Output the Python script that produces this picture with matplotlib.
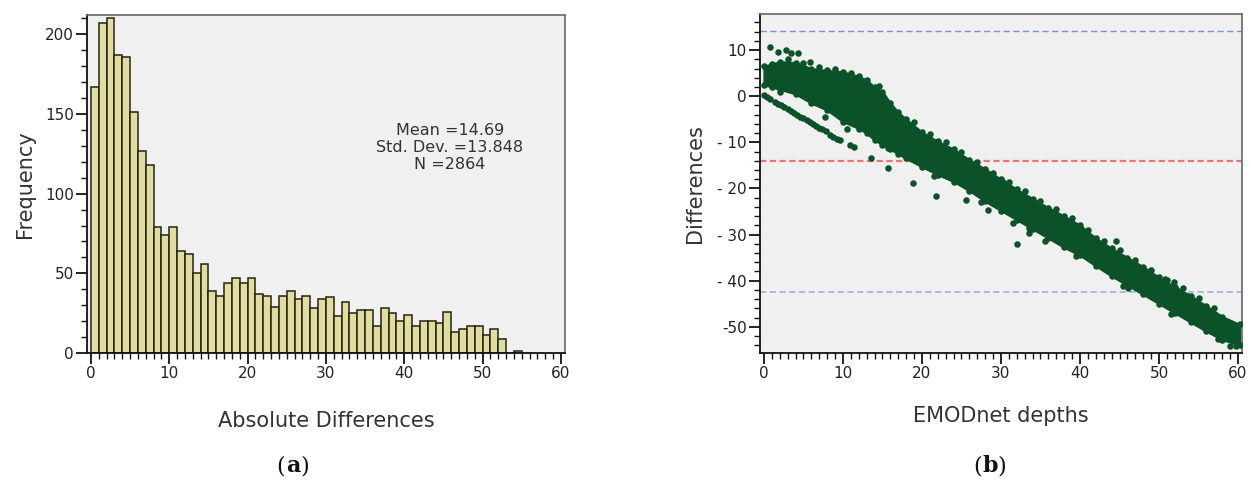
import numpy as np
import matplotlib
matplotlib.use("Agg")
import matplotlib.pyplot as plt
from matplotlib.ticker import MultipleLocator
from matplotlib.transforms import offset_copy

plt.rcParams['font.family'] = ['DejaVu Sans']
plt.rcParams['axes.unicode_minus'] = False
plt.rcParams['lines.scale_dashes'] = False

# (a) histogram of absolute differences, bins of width 1
bin_counts = [167, 207, 210, 187, 186, 151, 127, 118, 79, 74,
              79, 64, 62, 50, 56, 39, 36, 44, 47, 44,
              47, 37, 36, 29, 36, 39, 34, 36, 28, 34,
              35, 23, 32, 25, 27, 27, 17, 28, 25, 20,
              24, 17, 20, 20, 19, 26, 13, 15, 17, 17,
              11, 15, 9, 0, 1]
bin_left = np.arange(len(bin_counts))
stats_text = "Mean =14.69\nStd. Dev. =13.848\nN =2864"

# (b) differences vs EMODnet depths
# envelope of the dense point cloud
env_x = [0, 1, 2, 4, 6, 8, 10, 12, 13, 14, 15, 16, 17, 18, 20, 22, 24, 26, 28, 30,
         32, 34, 36, 38, 40, 42, 44, 46, 48, 50, 52, 54, 56, 58, 60.2]
env_hi = [6.5, 7.0, 7.5, 7.3, 6.0, 5.6, 5.3, 4.3, 3.5, 2.0, 1.0, -1.5, -3.5, -5.0, -7.8,
          -9.8, -11.5, -13.8, -15.8, -18.0, -20.2, -22.2, -24.2, -26.0, -28.0, -30.8,
          -33.0, -35.0, -37.0, -39.3, -41.3, -43.3, -45.5, -47.8, -49.5]
env_lo = [2.5, 2.0, 1.5, 0.5, -1.5, -3.0, -5.5, -7.0, -8.0, -9.5, -10.5, -11.5, -12.5,
          -13.5, -15.3, -17.0, -18.5, -20.5, -22.8, -24.8, -26.8, -28.8, -30.8, -32.8,
          -34.5, -36.8, -39.0, -41.0, -43.0, -45.0, -47.0, -49.0, -51.0, -52.8, -54.0]
# bumps sticking out of the cloud edges
edge_x = [3.0, 5.0, 7.0, 9.0, 11.0, 14.5, 19.0, 21.0, 23.0, 25.0, 27.0, 29.0, 31.0,
          33.0, 35.0, 37.0, 39.0, 41.0, 43.0, 45.0, 47.0, 49.0, 51.0, 53.0, 55.0, 57.0,
          21.5, 27.5, 33.5, 39.5, 45.5, 51.5, 57.5, 59.0]
edge_y = [8.0, 7.2, 6.3, 6.0, 5.0, 2.2, -5.6, -8.2, -10.0, -12.0, -14.2, -16.6, -18.6,
          -20.6, -22.7, -24.4, -26.5, -29.0, -31.3, -33.4, -35.5, -37.6, -39.8, -41.7,
          -43.8, -46.0, -17.2, -23.0, -28.5, -34.6, -41.2, -47.3, -52.6, -54.2]
# thin line of points below the cloud (depth 0..11)
line_x = [0.0, 0.4, 0.8, 1.4, 1.8, 2.2, 2.6, 3.0, 3.4, 3.8, 4.2, 4.6, 5.0, 5.4, 5.8,
          6.2, 6.6, 7.0, 7.4, 7.8, 8.4, 8.8, 9.2, 9.6, 10.9, 11.4]
line_y = [0.2, -0.1, -0.6, -1.2, -1.6, -2.0, -2.4, -2.8, -3.2, -3.6, -4.0, -4.4, -4.8,
          -5.2, -5.6, -6.0, -6.4, -6.8, -7.2, -7.6, -8.4, -8.8, -9.2, -9.6, -10.6, -11.0]
# isolated points
out_x = [0.8, 1.8, 2.8, 3.4, 4.3, 5.8, 2.0, 7.7, 10.5, 13.6, 15.7, 15.7, 18.9, 21.8,
         25.6, 28.3, 30.3, 31.5, 32.0, 33.5, 35.6, 37.8, 44.6, 46.1, 48.8, 50.8, 51.9,
         53.7, 59.7]
out_y = [10.7, 9.6, 10.0, 9.3, 9.3, 7.4, 0.9, -4.5, -7.0, -13.4, -15.5, -11.3, -18.9,
         -21.6, -22.6, -24.6, -18.6, -27.6, -32.0, -29.7, -31.5, -27.1, -31.4, -41.7,
         -38.0, -39.7, -40.3, -43.3, -54.2]
mean_diff = -14.1
upper_loa = 14.2
lower_loa = -42.4

green = '#0c5229'
bg = '#f0f0f0'
txt = '#333333'

fig = plt.figure(figsize=(12.51, 4.82), dpi=100)
ax1 = fig.add_axes([0.0695, 0.2676, 0.382, 0.701])
ax2 = fig.add_axes([0.6075, 0.2676, 0.3853, 0.703])


def style_axes(ax):
    ax.set_facecolor(bg)
    for s in ['top', 'right']:
        ax.spines[s].set_color('#666666')
        ax.spines[s].set_linewidth(1.2)
    for s in ['left', 'bottom']:
        ax.spines[s].set_color('#111111')
        ax.spines[s].set_linewidth(1.3)
    ax.tick_params(which='major', direction='out', length=8, width=1.3,
                   labelsize=11, pad=1.5, colors='#111111', labelcolor='#222222')
    ax.tick_params(which='minor', direction='out', length=4.5, width=1.0, colors='#111111')
    ax.xaxis.set_major_locator(MultipleLocator(10))
    ax.xaxis.set_minor_locator(MultipleLocator(1))
    ax.set_xlim(-0.5, 60.5)


# (a)
style_axes(ax1)
ax1.bar(bin_left, bin_counts, width=1, align='edge', color='#e0dca2',
        edgecolor='#24230f', linewidth=1.1)
ax1.set_ylim(0, 212)
ax1.yaxis.set_major_locator(MultipleLocator(50))
ax1.yaxis.set_minor_locator(MultipleLocator(10))
ax1.text(45.8, 129, stats_text, ha='center', va='center', fontsize=11.5,
         color=txt, linespacing=1.15)
ax1.set_ylabel('Frequency', fontsize=15, color=txt)
ax1.yaxis.set_label_coords(-0.109, 0.5)
ax1.set_xlabel('Absolute Differences', fontsize=15, color=txt)
ax1.xaxis.set_label_coords(0.5, -0.2)
ax1.xaxis.label.set_va('center')

# (b)
style_axes(ax2)
ax2.set_ylim(-55.7, 17.8)
ax2.yaxis.set_major_locator(MultipleLocator(10))
ax2.yaxis.set_minor_locator(MultipleLocator(2))
ax2.set_yticks([-50, -40, -30, -20, -10, 0, 10])
ax2.set_yticklabels(['-50', '- 40', '- 30', '- 20', '- 10', '0', '10'])
ax2.axhline(upper_loa, color='#7d8fd2', lw=1.0, dashes=(4.5, 2.5), zorder=1)
ax2.axhline(lower_loa, color='#aab5e0', lw=1.3, dashes=(4.5, 2.5), zorder=1)
ax2.axhline(mean_diff, color='#f07272', lw=1.6, dashes=(4.5, 2.5), zorder=1)
ax2.fill_between(env_x, env_lo, env_hi, color=green, lw=1.5, edgecolor=green, zorder=2)
for xs, ys in [(env_x, env_hi), (env_x, env_lo), (edge_x, edge_y),
               (line_x, line_y), (out_x, out_y)]:
    ax2.scatter(xs, ys, s=22, color=green, lw=0, zorder=3)
ax2.set_ylabel('Differences', fontsize=15, color=txt)
ax2.yaxis.set_label_coords(-0.114, 0.5)
ax2.set_xlabel('EMODnet depths', fontsize=15, color=txt)
ax2.xaxis.set_label_coords(0.5, -0.185)
ax2.xaxis.label.set_va('center')

# panel captions: "(a)" and "(b)" with bold letters
for cx, letter in [(293 / 1251, 'a'), (990 / 1251, 'b')]:
    cy = 1 - 466 / 482
    fig.text(cx, cy, letter, ha='center', va='center', fontsize=16,
             fontweight='bold', family='DejaVu Serif', color='#111111')
    left = offset_copy(fig.transFigure, fig=fig, x=-5.5, y=0, units='points')
    right = offset_copy(fig.transFigure, fig=fig, x=5.5, y=0, units='points')
    fig.text(cx, cy, '(', ha='right', va='center', fontsize=16,
             family='DejaVu Serif', color='#111111', transform=left)
    fig.text(cx, cy, ')', ha='left', va='center', fontsize=16,
             family='DejaVu Serif', color='#111111', transform=right)

fig.savefig('out.png', dpi=100)
